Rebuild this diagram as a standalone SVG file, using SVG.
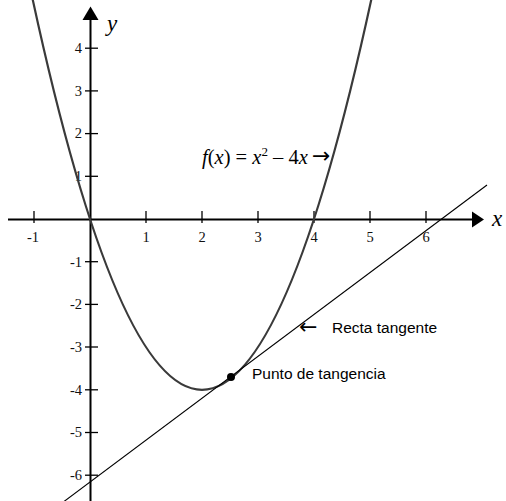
<svg xmlns="http://www.w3.org/2000/svg" width="506" height="501" viewBox="0 0 506 501">
<style>
.axis{stroke:#000;stroke-width:2;fill:none}
.tick{stroke:#000;stroke-width:1.3}
.num{font-family:"Liberation Serif","Times New Roman",serif;font-size:14.5px;fill:#111}
.var{font-family:"Liberation Serif","Times New Roman",serif;font-style:italic;font-size:23px;fill:#000}
.sans{font-family:"Liberation Sans",Arial,sans-serif;font-size:15.5px;fill:#000}
.arr{font-family:"DejaVu Sans",sans-serif;font-size:22px;fill:#000}
.it{font-style:italic}
</style>
<rect width="506" height="501" fill="#fff"/>
<g id="axes">
<line class="axis" x1="8" y1="219.5" x2="473" y2="219.5"/>
<polygon points="472,211.5 484,219.5 472,227.5" fill="#000"/>
<line class="axis" x1="90.5" y1="19" x2="90.5" y2="501"/>
<polygon points="90.5,6.5 82.5,20 98.5,20" fill="#000"/>
<g id="xticks">
<line class="tick" x1="34" y1="211" x2="34" y2="223"/>
<line class="tick" x1="146" y1="211" x2="146" y2="223"/>
<line class="tick" x1="202" y1="211" x2="202" y2="223"/>
<line class="tick" x1="258" y1="211" x2="258" y2="223"/>
<line class="tick" x1="314" y1="211" x2="314" y2="223"/>
<line class="tick" x1="370" y1="211" x2="370" y2="223"/>
<line class="tick" x1="426" y1="211" x2="426" y2="223"/>
</g>
<g id="yticks">
<line class="tick" x1="85" y1="48.2" x2="98" y2="48.2"/>
<line class="tick" x1="85" y1="90.9" x2="98" y2="90.9"/>
<line class="tick" x1="85" y1="133.6" x2="98" y2="133.6"/>
<line class="tick" x1="85" y1="176.3" x2="98" y2="176.3"/>
<line class="tick" x1="85" y1="261.7" x2="98" y2="261.7"/>
<line class="tick" x1="85" y1="304.4" x2="98" y2="304.4"/>
<line class="tick" x1="85" y1="347" x2="98" y2="347"/>
<line class="tick" x1="85" y1="389.8" x2="98" y2="389.8"/>
<line class="tick" x1="85" y1="432.5" x2="98" y2="432.5"/>
<line class="tick" x1="85" y1="475.2" x2="98" y2="475.2"/>
</g>
<g id="xlabels" class="num" text-anchor="middle">
<text x="33" y="241.5">-1</text>
<text x="146" y="241.5">1</text>
<text x="202" y="241.5">2</text>
<text x="258" y="241.5">3</text>
<text x="314" y="241.5">4</text>
<text x="370" y="241.5">5</text>
<text x="426" y="241.5">6</text>
</g>
<g id="ylabels" class="num" text-anchor="end">
<text x="82" y="53">4</text>
<text x="82" y="95.7">3</text>
<text x="82" y="138.4">2</text>
<text x="82" y="181.1">1</text>
<text x="82" y="266.5">-1</text>
<text x="82" y="309.2">-2</text>
<text x="82" y="351.8">-3</text>
<text x="82" y="394.6">-4</text>
<text x="82" y="437.3">-5</text>
<text x="82" y="480">-6</text>
</g>
<text class="var" x="107" y="31">y</text>
<text class="var" x="492" y="226">x</text>
</g>
<g id="curve">
<path d="M31.2,-7.4 Q202,787 372.8,-7.4" fill="none" stroke="#3a3a3a" stroke-width="2.2"/>
</g>
<g id="tangent">
<line x1="64" y1="501.5" x2="487" y2="185" stroke="#000" stroke-width="1.1"/>
</g>
<g id="point">
<circle cx="231" cy="377" r="4" fill="#000"/>
</g>
<g id="labels">
<text x="202" y="163.5" font-family="'Liberation Serif','Times New Roman',serif" font-size="20.5" fill="#000"><tspan class="it">f</tspan>(<tspan class="it">x</tspan>) = <tspan class="it">x</tspan><tspan dy="-8" font-size="13">2</tspan><tspan dy="8"> – 4</tspan><tspan class="it">x</tspan></text>
<text class="arr" x="312" y="163">→</text>
<text class="arr" x="299" y="334">←</text>
<text class="sans" x="332" y="333">Recta tangente</text>
<text class="sans" x="252" y="379">Punto de tangencia</text>
</g>
</svg>
